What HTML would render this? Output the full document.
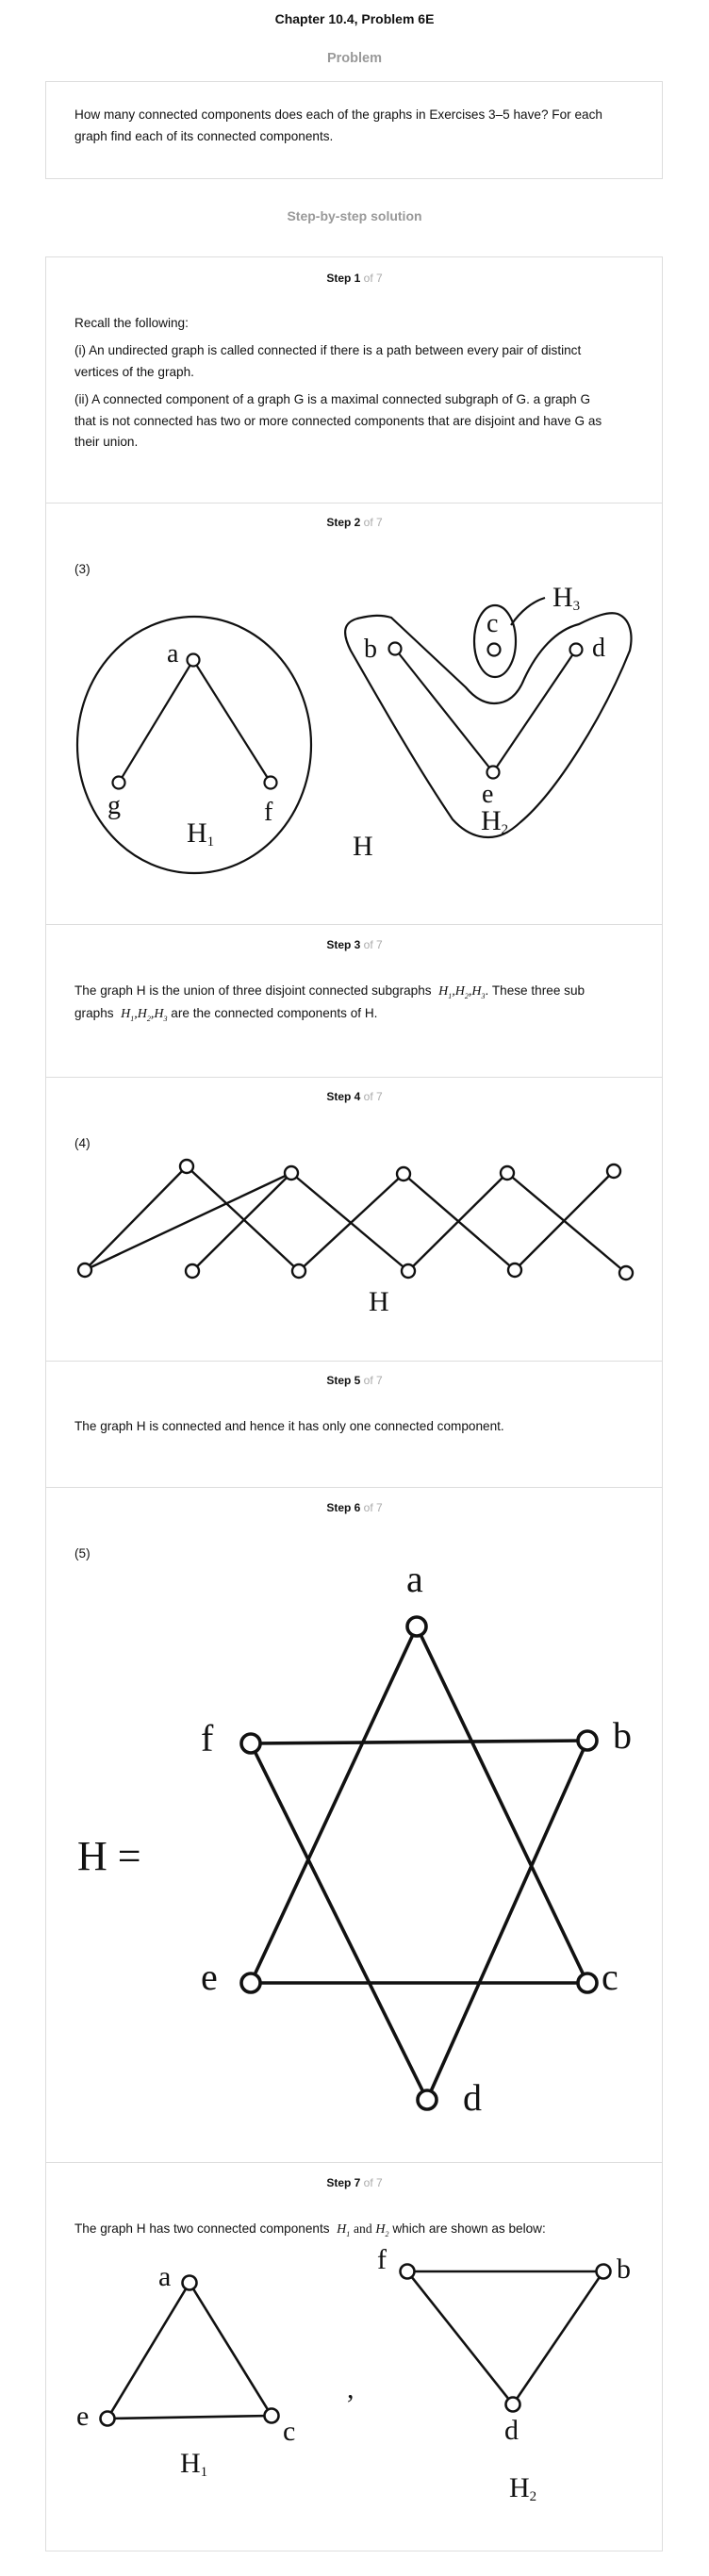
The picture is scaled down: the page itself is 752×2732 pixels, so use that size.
<!DOCTYPE html>
<html><head><meta charset="utf-8">
<style>
html,body{margin:0;padding:0;background:#fff;}
body{width:752px;height:2732px;position:relative;overflow:hidden;font-family:"Liberation Sans",Arial,sans-serif;color:#111;}
.t{position:absolute;white-space:nowrap;}
.c{left:0;width:752px;text-align:center;}
.box{position:absolute;left:48px;width:653px;border:1px solid #ddd;}
.sep{position:absolute;left:48px;width:655px;height:1px;background:#ddd;}
.step{font-size:12px;font-weight:bold;}
.step span{color:#aaa;font-weight:normal;}
.p{font-size:13.6px;left:79px;}
.m{font-family:"Liberation Serif",serif;font-style:italic;font-size:14px;}
svg{position:absolute;left:0;top:0;}
svg text{font-family:"Liberation Serif",serif;fill:#111;}
</style></head><body>
<div class="t c" style="top:12px;font-size:14px;font-weight:bold;">Chapter 10.4, Problem 6E</div>
<div class="t c" style="top:54px;font-size:14.5px;font-weight:bold;color:#999;">Problem</div>
<div class="box" style="top:86px;height:102px;"></div>
<div class="t p" style="top:114px;">How many connected components does each of the graphs in Exercises 3–5 have? For each</div>
<div class="t p" style="top:137px;">graph find each of its connected components.</div>
<div class="t c" style="top:221px;font-size:14px;font-weight:bold;color:#999;">Step-by-step solution</div>
<div class="box" style="top:272px;height:2432px;"></div>

<div class="t c step" style="top:288px;">Step 1 <span>of 7</span></div>
<div class="t p" style="top:335px;">Recall the following:</div>
<div class="t p" style="top:364px;">(i) An undirected graph is called connected if there is a path between every pair of distinct</div>
<div class="t p" style="top:387px;">vertices of the graph.</div>
<div class="t p" style="top:416px;">(ii) A connected component of a graph G is a maximal connected subgraph of G. a graph G</div>
<div class="t p" style="top:439px;">that is not connected has two or more connected components that are disjoint and have G as</div>
<div class="t p" style="top:461px;">their union.</div>
<div class="sep" style="top:533px;"></div>

<div class="t c step" style="top:547px;">Step 2 <span>of 7</span></div>
<div class="t p" style="top:596px;">(3)</div>
<div class="sep" style="top:980px;"></div>

<div class="t c step" style="top:995px;">Step 3 <span>of 7</span></div>
<div class="t p" style="top:1043px;">The graph H is the union of three disjoint connected subgraphs &nbsp;<span class="m">H<sub style="font-size:8px">1</sub>,H<sub style="font-size:8px">2</sub>,H<sub style="font-size:8px">3</sub></span>. These three sub</div>
<div class="t p" style="top:1067px;">graphs &nbsp;<span class="m">H<sub style="font-size:8px">1</sub>,H<sub style="font-size:8px">2</sub>,H<sub style="font-size:8px">3</sub></span> are the connected components of H.</div>
<div class="sep" style="top:1142px;"></div>

<div class="t c step" style="top:1156px;">Step 4 <span>of 7</span></div>
<div class="t p" style="top:1205px;">(4)</div>
<div class="sep" style="top:1443px;"></div>

<div class="t c step" style="top:1457px;">Step 5 <span>of 7</span></div>
<div class="t p" style="top:1505px;">The graph H is connected and hence it has only one connected component.</div>
<div class="sep" style="top:1577px;"></div>

<div class="t c step" style="top:1592px;">Step 6 <span>of 7</span></div>
<div class="t p" style="top:1640px;">(5)</div>
<div class="sep" style="top:2293px;"></div>

<div class="t c step" style="top:2308px;">Step 7 <span>of 7</span></div>
<div class="t p" style="top:2356px;">The graph H has two connected components &nbsp;<span class="m">H<sub style="font-size:8px">1</sub></span> <span style="font-family:'Liberation Serif',serif">and</span> <span class="m">H<sub style="font-size:8px">2</sub></span> which are shown as below:</div>

<svg id="g" width="752" height="2732" xmlns="http://www.w3.org/2000/svg">
 <g fill="none" stroke="#111" stroke-width="2.2">
  <ellipse cx="206" cy="790" rx="124" ry="136"/>
  <ellipse cx="525" cy="680" rx="22" ry="38"/>
  <path d="M415,655 L494,729 C505,742 515,746 524,746 C540,746 550,735 556,720 C570,690 590,668 614,662 C630,654 645,648 655,651 C668,656 672,672 668,690 C640,760 590,840 552,872 C540,883 530,888 518,888 C502,888 490,880 480,869 C440,810 395,730 372,690 C362,670 365,660 379,656 C395,652 405,652 415,655 Z"/>
  <path d="M542,663 C552,648 565,638 578,634"/>
 </g>
 <g id="graphs"></g>
 <g font-size="28">
  <text x="177" y="702">a</text>
  <text x="114" y="863">g</text>
  <text x="280" y="870">f</text>
  <text x="386" y="697">b</text>
  <text x="516" y="670">c</text>
  <text x="628" y="696">d</text>
  <text x="511" y="851">e</text>
 </g>
 <g font-size="30">
  <text x="198" y="893">H<tspan font-size="15" dy="4">1</tspan></text>
  <text x="510" y="880">H<tspan font-size="15" dy="4">2</tspan></text>
  <text x="586" y="643">H<tspan font-size="15" dy="4">3</tspan></text>
  <text x="374" y="907">H</text>
  <text x="391" y="1390">H</text>
 </g>
 <g font-size="40">
  <text x="82" y="1983" font-size="44">H =</text>
  <text x="431" y="1688">a</text>
  <text x="213" y="1857">f</text>
  <text x="650" y="1854">b</text>
  <text x="213" y="2110">e</text>
  <text x="638" y="2110">c</text>
  <text x="491" y="2238">d</text>
 </g>
 <g font-size="30">
  <text x="168" y="2424">a</text>
  <text x="81" y="2572">e</text>
  <text x="300" y="2588">c</text>
  <text x="400" y="2406">f</text>
  <text x="654" y="2416">b</text>
  <text x="535" y="2587">d</text>
  <text x="368" y="2543">,</text>
  <text x="191" y="2622">H<tspan font-size="15" dy="4">1</tspan></text>
  <text x="540" y="2648">H<tspan font-size="15" dy="4">2</tspan></text>
 </g>
</svg>
<script>
const NS="http://www.w3.org/2000/svg";
const g3Nodes=[[205,700],[126,830],[287,830],[419,688],[524,689],[611,689],[523,819]];
const g3Edges=[[0,1],[0,2],[3,6],[5,6]];
const g4Nodes=[[198,1237],[309,1244],[428,1245],[538,1244],[651,1242],[90,1347],[204,1348],[317,1348],[433,1348],[546,1347],[664,1350]];
const g4Edges=[[5,0],[5,1],[0,7],[6,1],[1,8],[7,2],[2,9],[8,3],[3,10],[9,4]];
const g5Nodes=[[442,1725],[623,1846],[623,2103],[453,2227],[266,2103],[266,1849]];
const g5Edges=[[0,4],[0,2],[5,1],[5,3],[1,3],[4,2]];
const g6Nodes=[[201,2421],[114,2565],[288,2562],[432,2409],[640,2409],[544,2550]];
const g6Edges=[[0,1],[0,2],[1,2],[3,4],[3,5],[4,5]];
const root=document.getElementById('graphs');
function draw(nodes,edges,sw,r,name){
  const grp=document.createElementNS(NS,'g');
  
  
  edges.forEach(e=>{
    const l=document.createElementNS(NS,'line');
    l.setAttribute('x1',nodes[e[0]][0]);l.setAttribute('y1',nodes[e[0]][1]);
    l.setAttribute('x2',nodes[e[1]][0]);l.setAttribute('y2',nodes[e[1]][1]);
    l.setAttribute('stroke','#111');l.setAttribute('stroke-width',sw);
    
    
    grp.appendChild(l);
  });
  nodes.forEach(n=>{
    const c=document.createElementNS(NS,'circle');
    c.setAttribute('cx',n[0]);c.setAttribute('cy',n[1]);c.setAttribute('r',r);
    c.setAttribute('fill','#fff');c.setAttribute('stroke','#111');c.setAttribute('stroke-width',sw);
    
    
    grp.appendChild(c);
  });
  root.appendChild(grp);
}
draw(g3Nodes,g3Edges,2.2,6.5,'graph-3');
draw(g4Nodes,g4Edges,2.4,7,'graph-4');
draw(g5Nodes,g5Edges,3.6,10,'graph-5');
draw(g6Nodes,g6Edges,2.6,7.5,'graph-5-components');
</script>
</body></html>
